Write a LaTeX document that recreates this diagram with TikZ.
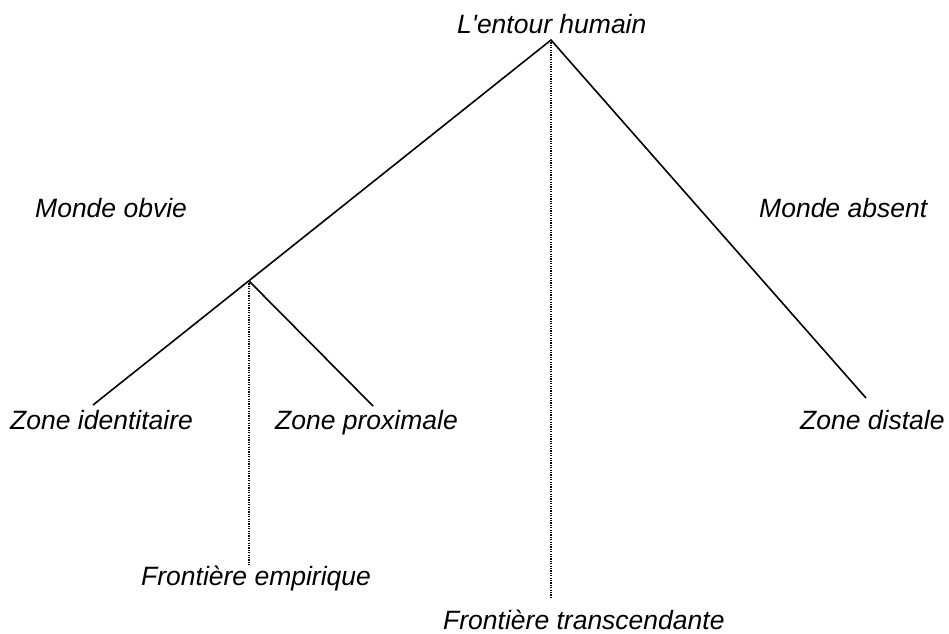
\documentclass[tikz,border=0pt]{standalone}
\usepackage{fontspec}
\setmainfont{Liberation Sans}
\begin{document}
\begin{tikzpicture}[x=1pt,y=-1pt,
  lbl/.style={anchor=base west,inner sep=0pt,font=\fontsize{26.5}{31}\selectfont\itshape},
  branch/.style={line width=1.6pt},
  border/.style={line width=1.1pt,dash pattern=on 1.1pt off 1.3pt}]
\useasboundingbox (0,0) rectangle (949,633);
% tree points
\coordinate (apex) at (551,40);
\coordinate (fork) at (249,281);
\coordinate (leftend) at (93,405);
\coordinate (proxend) at (373,406);
\coordinate (rightend) at (866,398);
\coordinate (empend) at (249,566);
\coordinate (transend) at (551,598);
% labels
\node[lbl] (entour) at (457,33) {L\textquotesingle entour humain};
\node[lbl] (obvie) at (35,217) {Monde obvie};
\node[lbl] (absent) at (759,217) {Monde absent};
\node[lbl] (ident) at (10,429) {Zone identitaire};
\node[lbl] (prox) at (275,429) {Zone proximale};
\node[lbl] (dist) at (800,429) {Zone distale};
\node[lbl] (emp) at (141,585) {Frontière empirique};
\node[lbl] (trans) at (443,629) {Frontière transcendante};
% branches
\draw[branch] (leftend) -- (apex) -- (rightend);
\draw[branch] (fork) -- (proxend);
% frontiers
\draw[border] (apex) -- (transend);
\draw[border] (fork) -- (empend);
\end{tikzpicture}
\end{document}
